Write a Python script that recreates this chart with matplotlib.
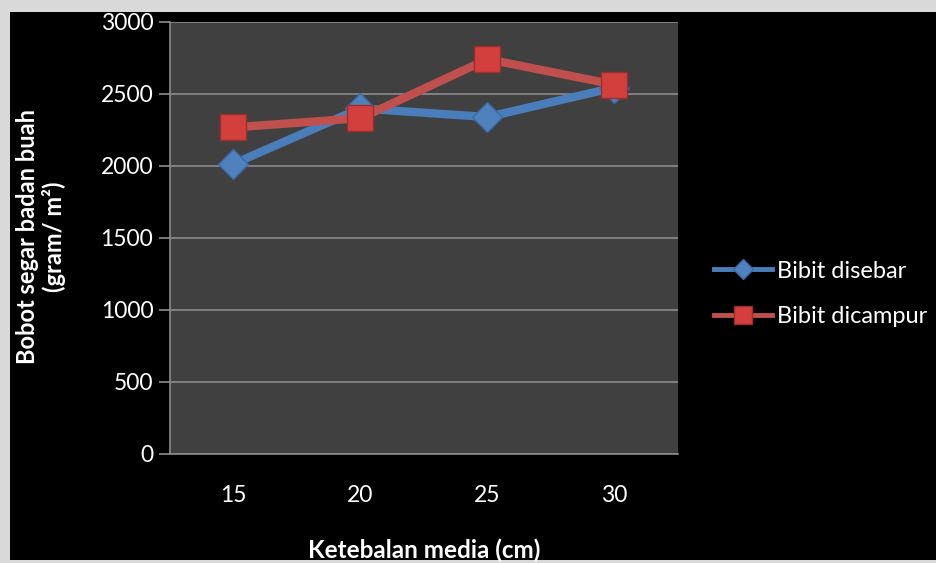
import matplotlib
matplotlib.use("Agg")
import matplotlib.pyplot as plt
from matplotlib.patches import Rectangle

# Data
thickness = ["15", "20", "25", "30"]
disebar = [2015, 2400, 2340, 2545]
dicampur = [2268, 2332, 2742, 2565]
y_ticks = [0, 500, 1000, 1500, 2000, 2500, 3000]

plt.rcParams['font.family'] = ['Lato', 'DejaVu Sans']

W, H = 937, 563
fig = plt.figure(figsize=(W / 100, H / 100), dpi=100)
fig.patch.set_facecolor('#d9d9d9')

# black chart canvas
fig.patches.append(Rectangle((10 / W, 1 - 560 / H), (W - 10) / W, (560 - 12) / H,
                             transform=fig.transFigure, facecolor='black',
                             edgecolor='none', zorder=-5))

ax = fig.add_axes([170 / W, 1 - 454 / H, (678 - 170) / W, (454 - 22) / H])
ax.set_zorder(2)
ax.set_facecolor('#404040')

x = range(len(thickness))
ax.plot(x, disebar, color='#4a7ebb', lw=6, marker='D', ms=15,
        markerfacecolor='#4f81bd', markeredgecolor='#3a6aa5', mew=1,
        label='Bibit disebar', zorder=3, solid_joinstyle='round')
ax.plot(x, dicampur, color='#c0504d', lw=6, marker='s', ms=19,
        markerfacecolor='#d23f3c', markeredgecolor='#9c2f2c', mew=1,
        label='Bibit dicampur', zorder=4, solid_joinstyle='round')

ax.set_xlim(-0.5, 3.5)
ax.set_ylim(0, 3000)
ax.set_yticks(y_ticks)
ax.set_xticks(list(x))
ax.set_xticklabels(thickness)
ax.yaxis.grid(True, color='#8c8c8c', lw=1.2)
ax.set_axisbelow(True)

for s in ['top', 'right']:
    ax.spines[s].set_visible(False)
for s in ['left', 'bottom']:
    ax.spines[s].set_color('#8c8c8c')
    ax.spines[s].set_linewidth(1.2)

ax.tick_params(axis='y', colors='#8c8c8c', labelcolor='white', labelsize=16.5,
               length=8, width=1.2, pad=4)
ax.tick_params(axis='x', colors='#8c8c8c', labelcolor='white', labelsize=16.5,
               length=0, pad=22)

ax.set_xlabel('Ketebalan media (cm)', color='white', fontsize=17.5,
              fontweight='bold', labelpad=24)
fig.text(41 / W, 1 - 237 / H, 'Bobot segar badan buah\n(gram/ m²)',
         rotation=90, color='white', fontsize=17, fontweight='bold',
         ha='center', va='center', linespacing=1.1)

leg = fig.legend(*ax.get_legend_handles_labels(), loc='center left',
                 bbox_to_anchor=(714 / W, 1 - 294 / H), frameon=False,
                 fontsize=17, labelcolor='white', handlelength=2.45,
                 handletextpad=0.2, labelspacing=1.05, markerscale=0.65,
                 borderpad=0, borderaxespad=0)
for ln in leg.get_lines():
    ln.set_linewidth(3.5)

fig.savefig('out.png', dpi=100, facecolor=fig.get_facecolor())
